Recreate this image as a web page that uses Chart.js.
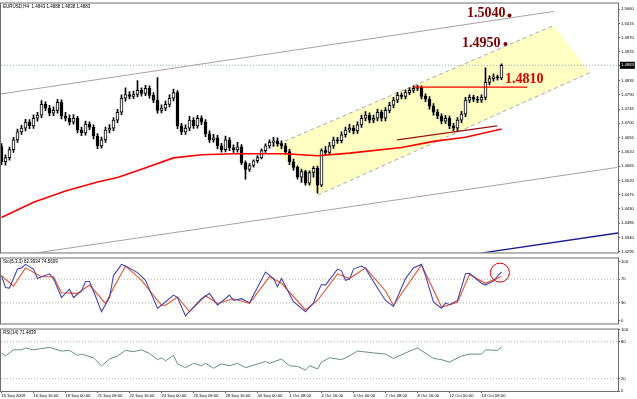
<!DOCTYPE html>
<html>
<head>
<meta charset="utf-8">
<title>EURUSD,H4</title>
<script src="https://cdn.jsdelivr.net/npm/chart.js@4.4.0/dist/chart.umd.min.js"></script>
<style>
  html, body { margin: 0; padding: 0; background: #fff; }
  #wrap { position: relative; width: 637px; height: 399px; overflow: hidden; }
  canvas { position: absolute; left: 0; }
</style>
</head>
<body>
<div id="wrap">
  <canvas id="price" width="637" height="256" style="top:0"></canvas>
  <canvas id="stoch" width="637" height="72" style="top:255px"></canvas>
  <canvas id="rsi" width="637" height="73" style="top:326px"></canvas>
</div>
<script>
// ---- candles (H4 bars, index 0 = 15 Sep 2009 08:00) ----
const open = [1.4627,1.4579,1.4592,1.4617,1.4648,1.4673,1.4685,1.4704,1.4692,1.4716,
  1.4726,1.4760,1.4748,1.4732,1.4741,1.4766,1.4723,1.4716,1.4704,1.4716,
  1.4679,1.4670,1.4698,1.4688,1.4660,1.4629,1.4648,1.4679,1.4685,1.4710,
  1.4735,1.4779,1.4791,1.4785,1.4791,1.4804,1.4794,1.4810,1.4788,1.4773,
  1.4741,1.4748,1.4760,1.4779,1.4797,1.4692,1.4673,1.4685,1.4710,1.4692,
  1.4716,1.4704,1.4667,1.4648,1.4654,1.4629,1.4617,1.4648,1.4623,1.4617,
  1.4626,1.4576,1.4555,1.4567,1.4582,1.4592,1.4614,1.4629,1.4640,1.4645,
  1.4636,1.4629,1.4611,1.4579,1.4561,1.4530,1.4548,1.4511,1.4545,1.4558,
  1.4505,1.4614,1.4608,1.4629,1.4648,1.4645,1.4664,1.4679,1.4685,1.4676,
  1.4695,1.4716,1.4726,1.4710,1.4716,1.4735,1.4716,1.4741,1.4757,1.4773,
  1.4788,1.4785,1.4797,1.4804,1.4810,1.4813,1.4785,1.4776,1.4754,1.4735,
  1.4723,1.4707,1.4716,1.4692,1.4685,1.4710,1.4729,1.4773,1.4782,1.4776,
  1.4773,1.4782,1.4829,1.4841,1.4847,1.4843];
const high = [1.4636,1.4601,1.4625,1.4656,1.4682,1.4694,1.4713,1.4712,1.4727,1.4735,
  1.4772,1.4768,1.4757,1.4752,1.4776,1.4774,1.4735,1.4727,1.4728,1.4722,
  1.4688,1.4707,1.4705,1.4695,1.4668,1.4657,1.4688,1.4696,1.4718,1.4744,
  1.4790,1.4812,1.4800,1.4802,1.4835,1.4812,1.4820,1.4818,1.4797,1.4844,
  1.4758,1.4770,1.4790,1.4808,1.4803,1.4700,1.4695,1.4722,1.4718,1.4725,
  1.4724,1.4712,1.4676,1.4665,1.4662,1.4637,1.4660,1.4655,1.4632,1.4640,
  1.4633,1.4582,1.4573,1.4585,1.4598,1.4620,1.4635,1.4648,1.4656,1.4654,
  1.4645,1.4637,1.4618,1.4587,1.4566,1.4556,1.4552,1.4550,1.4564,1.4565,
  1.4620,1.4627,1.4640,1.4657,1.4656,1.4673,1.4688,1.4697,1.4693,1.4705,
  1.4726,1.4737,1.4733,1.4726,1.4745,1.4742,1.4750,1.4766,1.4782,1.4798,
  1.4796,1.4806,1.4812,1.4818,1.4820,1.4818,1.4793,1.4784,1.4762,1.4743,
  1.4730,1.4725,1.4723,1.4700,1.4718,1.4738,1.4782,1.4790,1.4788,1.4785,
  1.4790,1.4875,1.4850,1.4856,1.4852,1.4888];
const low = [1.4570,1.4568,1.4584,1.4608,1.4640,1.4665,1.4676,1.4683,1.4684,1.4707,
  1.4718,1.4740,1.4723,1.4724,1.4732,1.4714,1.4708,1.4695,1.4697,1.4670,
  1.4661,1.4663,1.4680,1.4651,1.4620,1.4622,1.4640,1.4670,1.4677,1.4702,
  1.4727,1.4770,1.4777,1.4778,1.4783,1.4786,1.4787,1.4779,1.4765,1.4732,
  1.4733,1.4740,1.4752,1.4771,1.4683,1.4664,1.4665,1.4677,1.4684,1.4685,
  1.4696,1.4658,1.4640,1.4641,1.4620,1.4609,1.4610,1.4614,1.4608,1.4609,
  1.4570,1.4524,1.4548,1.4562,1.4575,1.4588,1.4608,1.4622,1.4628,1.4628,
  1.4620,1.4603,1.4570,1.4552,1.4524,1.4514,1.4505,1.4505,1.4530,1.4480,
  1.4500,1.4600,1.4602,1.4621,1.4637,1.4638,1.4656,1.4671,1.4667,1.4668,
  1.4687,1.4708,1.4701,1.4702,1.4708,1.4707,1.4708,1.4733,1.4749,1.4765,
  1.4777,1.4777,1.4790,1.4797,1.4803,1.4777,1.4768,1.4745,1.4726,1.4715,
  1.4698,1.4700,1.4683,1.4676,1.4677,1.4702,1.4721,1.4765,1.4768,1.4765,
  1.4766,1.4774,1.4821,1.4833,1.4836,1.4838];
const close = [1.4579,1.4592,1.4617,1.4648,1.4673,1.4685,1.4704,1.4692,1.4716,1.4726,
  1.4760,1.4748,1.4732,1.4741,1.4766,1.4723,1.4716,1.4704,1.4716,1.4679,
  1.4670,1.4698,1.4688,1.4660,1.4629,1.4648,1.4679,1.4685,1.4710,1.4735,
  1.4779,1.4791,1.4785,1.4791,1.4804,1.4794,1.4810,1.4788,1.4773,1.4741,
  1.4748,1.4760,1.4779,1.4797,1.4692,1.4673,1.4685,1.4710,1.4692,1.4716,
  1.4704,1.4667,1.4648,1.4654,1.4629,1.4617,1.4648,1.4623,1.4617,1.4626,
  1.4576,1.4555,1.4567,1.4582,1.4592,1.4614,1.4629,1.4640,1.4645,1.4636,
  1.4629,1.4611,1.4579,1.4561,1.4530,1.4548,1.4511,1.4545,1.4558,1.4505,
  1.4614,1.4608,1.4629,1.4648,1.4645,1.4664,1.4679,1.4685,1.4676,1.4695,
  1.4716,1.4726,1.4710,1.4716,1.4735,1.4716,1.4741,1.4757,1.4773,1.4788,
  1.4785,1.4797,1.4804,1.4810,1.4813,1.4785,1.4776,1.4754,1.4735,1.4723,
  1.4707,1.4716,1.4692,1.4685,1.4710,1.4729,1.4773,1.4782,1.4776,1.4773,
  1.4782,1.4829,1.4841,1.4847,1.4843,1.4883];

// moving average, read at a few bars [bar, price]
const maPoints = [[0,1.4403],[8,1.4451],[16,1.4487],[24,1.4515],[29,1.4529],[35,1.4555],
  [43,1.4591],[50,1.4601],[58,1.4604],[71,1.4604],[79,1.4598],[87,1.4606],
  [100,1.4624],[108,1.4643],[116,1.4656],[125,1.4682]];

// drawn objects [bar, price]
const upperLine = [[-1,1.4791],[138.1,1.5053]];
const lowerLine = [[7.9,1.4290],[153.9,1.4561]];
const blueLine = [[119.4,1.4290],[154.6,1.4355]];
const channelBox = [[67.6,1.4626],[138.1,1.5009],[147.1,1.4860],[79.1,1.4474],[67.6,1.4626]];
const channelTop = [[67.6,1.4626],[138.1,1.5009]];
const channelBottom = [[79.1,1.4474],[147.1,1.4860]];
const supportLine = [[103.1,1.4814],[131.4,1.4814]];
const risingLine = [[98.9,1.4648],[123.9,1.4692]];
const targetBars = [127, 126];
const targetPrices = [1.5040, 1.4950];
const supportLabel = '1.4810';
const lastPrice = 1.4883;
const priceTicks = [1.5060,1.5015,1.4970,1.4925,1.4883,1.4835,1.4790,1.4745,1.4700,
  1.4655,1.4610,1.4565,1.4520,1.4475,1.4430,1.4385,1.4340,1.4295];

// stochastic (5,3,3): [bar, value]
const stochMain = [[0,76],[1,56],[2,55],[4,87],[5,89],[6,95],[8,87],[9,71],[10,74],[12,79],
  [13,71],[15,39],[17,53],[18,39],[20,50],[21,66],[22,66],[23,50],[25,15],[27,39],
  [28,76],[30,95],[31,92],[34,81],[36,68],[39,21],[40,26],[43,43],[44,39],[46,8],
  [48,23],[50,37],[52,46],[54,26],[57,43],[58,34],[60,37],[62,30],[66,82],[68,71],
  [69,57],[70,71],[73,32],[76,15],[78,30],[79,47],[80,61],[81,60],[84,87],[85,84],
  [86,68],[87,70],[88,87],[90,92],[91,88],[94,55],[96,34],[98,24],[101,71],[103,89],
  [105,95],[106,76],[108,31],[110,21],[111,30],[112,27],[114,34],[116,79],[117,80],
  [120,63],[121,60],[123,67],[125,82.39]];
const stochSignal = [[0,76],[3,58],[6,89],[10,74],[13,74],[15,47],[19,46],[22,60],[26,29],
  [28,55],[31,92],[35,68],[40,26],[41,26],[44,40],[47,15],[51,42],[54,29],[58,37],
  [62,29],[67,74],[70,63],[76,18],[79,34],[84,79],[87,71],[91,89],[96,50],[98,26],
  [101,55],[105,94],[107,66],[110,23],[114,31],[117,78],[121,63],[125,74.56]];
const stochLevels = [70, 30];
const stochTicks = [100, 70, 30, 0];
const stochMark = [124.6, 81];

// RSI(14): [bar, value]
const rsiPoints = [[0,62],[1,57],[3,67],[5,67],[6,70],[8,67],[12,71],[15,65],[17,66],[19,58],
  [20,60],[23,54],[25,41],[27,52],[29,57],[31,66],[33,64],[35,67],[37,61],[39,51],
  [40,54],[41,49],[43,58],[44,44],[46,38],[48,45],[50,41],[51,45],[53,37],[55,44],
  [57,41],[59,45],[61,38],[64,44],[66,48],[67,45],[70,52],[72,41],[74,40],[76,34],
  [77,41],[79,36],[80,47],[82,54],[85,51],[87,57],[89,65],[93,62],[96,60],[98,53],
  [101,62],[104,70],[108,53],[110,51],[112,47],[115,57],[117,60],[120,60],[121,67],
  [124,66],[125,71.48]];
const rsiLevels = [80, 20];
const rsiTicks = [100, 80, 20, 0];

const timeLabels = ['15 Sep 2009','16 Sep 16:00','18 Sep 00:00','21 Sep 08:00','22 Sep 16:00',
  '24 Sep 00:00','25 Sep 08:00','28 Sep 16:00','30 Sep 00:00','1 Oct 08:00','2 Oct 16:00',
  '6 Oct 00:00','7 Oct 08:00','8 Oct 16:00','12 Oct 00:00','13 Oct 08:00'];
const labelEvery = 8;

// ---- common setup ----
Chart.defaults.font.family = 'Liberation Sans, Arial, sans-serif';
Chart.defaults.font.size = 4;
Chart.defaults.color = '#000';
const X_MIN = -0.125, X_MAX = 154.125;
const pts = arr => arr.map(p => ({x: p[0], y: p[1]}));
const seg = (arr, color, w, dash, order) => ({
  type: 'line', data: pts(arr), borderColor: color, borderWidth: w, borderDash: dash || [],
  pointRadius: 0, fill: false, tension: 0, order: order
});

const frame = {
  id: 'frame',
  afterDraw(chart, args, opts) {
    const a = chart.chartArea, ctx = chart.ctx;
    ctx.save();
    ctx.strokeStyle = '#6e6e6e';
    ctx.lineWidth = 1;
    ctx.strokeRect(a.left - 0.5, a.top - 0.5, a.right - a.left + 1, a.bottom - a.top + 1);
    if (opts.title) {
      ctx.fillStyle = '#000';
      ctx.font = '4.5px Liberation Sans, Arial, sans-serif';
      ctx.textBaseline = 'middle';
      ctx.fillText(opts.title, a.left + 2, a.top + 3.5);
    }
    (opts.notes || []).forEach(n => {
      const x = chart.scales.x.getPixelForValue(n.x);
      const y = chart.scales.y.getPixelForValue(n.y);
      ctx.font = 'bold 14px Liberation Serif, DejaVu Serif, serif';
      ctx.fillStyle = n.color;
      ctx.textAlign = n.align;
      ctx.textBaseline = 'middle';
      ctx.fillText(n.text, x + n.dx, y + n.dy);
    });
    ctx.restore();
  }
};

const rightAxis = (min, max, ticks, fmt) => ({
  position: 'right', min: min, max: max,
  afterFit: s => { s.width = 19; },
  afterBuildTicks: s => { s.ticks = ticks.map(v => ({value: v})); },
  border: {display: true, color: '#555'},
  grid: {display: true, drawOnChartArea: false, drawTicks: true, tickLength: 2, color: '#555'},
  ticks: {
    autoSkip: false, padding: 1, font: {size: 4.2},
    callback: fmt,
    color: c => c.tick && c.tick.value === lastPrice ? '#fff' : '#000',
    showLabelBackdrop: true,
    backdropColor: c => c.tick && c.tick.value === lastPrice ? '#000' : 'rgba(0,0,0,0)',
    backdropPadding: 1
  }
});
const hiddenX = {type: 'linear', min: X_MIN, max: X_MAX, display: false, offset: false};

// ---- price panel ----
const bars = close.map((c, i) => i);
new Chart(document.getElementById('price'), {
  type: 'bar',
  data: {
    datasets: [
      {type: 'line', data: pts(channelBox), borderWidth: 0, pointRadius: 0,
        fill: 'shape', backgroundColor: '#ffffc4', order: 20},
      seg(channelTop, '#a8a8a8', 1, [4, 3], 19),
      seg(channelBottom, '#a8a8a8', 1, [4, 3], 19),
      seg([[X_MIN, lastPrice], [X_MAX, lastPrice]], '#86b8c0', 1, [1, 2], 18),
      seg(upperLine, '#ad9f9f', 1, [], 17),
      seg(lowerLine, '#ad9f9f', 1, [], 17),
      seg(blueLine, '#1a1a8c', 1.3, [], 17),
      {type: 'bar', data: bars.map(i => ({x: i, y: [low[i], high[i]]})), barThickness: 1,
        backgroundColor: '#000', borderWidth: 0, grouped: false, order: 12},
      {type: 'bar', data: bars.map(i => ({x: i, y: [open[i], close[i]]})), barThickness: 3,
        backgroundColor: bars.map(i => close[i] >= open[i] ? '#fff' : '#000'),
        borderColor: '#000', borderWidth: 1, borderSkipped: false, minBarLength: 1,
        grouped: false, order: 11},
      seg(maPoints, '#ff0000', 1.6, [], 6),
      seg(supportLine, '#ff0000', 1.2, [], 5),
      seg(risingLine, '#a01010', 1.4, [], 5),
      {type: 'line', data: targetBars.map((b, i) => ({x: b, y: targetPrices[i]})), showLine: false,
        pointRadius: 2, pointBackgroundColor: '#7a0000', pointBorderWidth: 0, order: 1}
    ]
  },
  options: {
    responsive: false, animation: false, events: [],
    layout: {autoPadding: false, padding: {left: 1, right: 0, top: 2, bottom: 2}},
    scales: {
      x: hiddenX,
      y: rightAxis(1.42928, 1.50778, priceTicks, v => v.toFixed(4))
    },
    plugins: {
      legend: {display: false}, tooltip: {enabled: false},
      frame: {
        title: 'EURUSD,H4  1.4843 1.4888 1.4838 1.4883',
        notes: [
          {text: targetPrices[0].toFixed(4), x: targetBars[0], y: targetPrices[0], dx: -4, dy: -2, color: '#7a0000', align: 'right'},
          {text: targetPrices[1].toFixed(4), x: targetBars[1], y: targetPrices[1], dx: -5, dy: -1, color: '#7a0000', align: 'right'},
          {text: supportLabel, x: 125.9, y: 1.4838, dx: 0, dy: 0, color: '#e00000', align: 'left'}
        ]
      }
    }
  },
  plugins: [frame]
});

// ---- stochastic panel ----
const levelLine = v => seg([[X_MIN, v], [X_MAX, v]], '#a8b4a0', 1, [1, 2], 10);
new Chart(document.getElementById('stoch'), {
  type: 'line',
  data: {
    datasets: [
      ...stochLevels.map(levelLine),
      seg(stochSignal, '#e8502a', 1.1, [], 3),
      seg(stochMain, '#4646b4', 1.1, [], 2),
      {data: [{x: stochMark[0], y: stochMark[1]}], showLine: false, pointRadius: 9.5,
        pointBorderColor: '#e00000', pointBorderWidth: 1, pointBackgroundColor: 'rgba(0,0,0,0)', order: 1}
    ]
  },
  options: {
    responsive: false, animation: false, events: [],
    layout: {autoPadding: false, padding: {left: 1, right: 0, top: 2, bottom: 1}},
    scales: {x: hiddenX, y: rightAxis(-4.8, 104.8, stochTicks, v => String(v))},
    plugins: {legend: {display: false}, tooltip: {enabled: false},
      frame: {title: 'Sto(5,3,3) 82.3934 74.5609'}}
  },
  plugins: [frame]
});

// ---- RSI panel + time axis ----
new Chart(document.getElementById('rsi'), {
  type: 'line',
  data: {
    datasets: [
      ...rsiLevels.map(levelLine),
      seg(rsiPoints, '#6a8c8c', 1, [], 2)
    ]
  },
  options: {
    responsive: false, animation: false, events: [],
    layout: {autoPadding: false, padding: {left: 1, right: 0, top: 2, bottom: 0}},
    scales: {
      x: {
        type: 'linear', min: X_MIN, max: X_MAX, offset: false,
        afterFit: s => { s.height = 8; },
        afterBuildTicks: s => { s.ticks = timeLabels.map((t, k) => ({value: k * labelEvery})); },
        border: {display: true, color: '#555'},
        grid: {display: true, drawOnChartArea: false, drawTicks: true, tickLength: 2, color: '#555'},
        ticks: {autoSkip: false, maxRotation: 0, padding: 0, align: 'start', font: {size: 4.2},
          callback: v => timeLabels[Math.round(v / labelEvery)]}
      },
      y: rightAxis(0, 100, rsiTicks, v => String(v))
    },
    plugins: {legend: {display: false}, tooltip: {enabled: false},
      frame: {title: 'RSI(14) 71.4839'}}
  },
  plugins: [frame]
});
</script>
</body>
</html>
